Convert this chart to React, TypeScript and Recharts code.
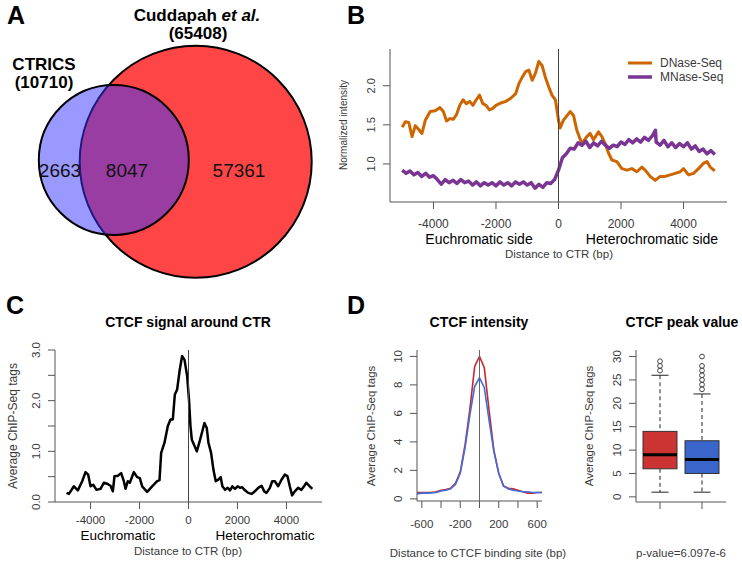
import React from 'react';
import {
  LineChart, Line, XAxis, YAxis, ReferenceLine,
  ScatterChart, Scatter, BarChart, Bar,
} from 'recharts';

const FONT = '"Liberation Sans", Arial, Helvetica, sans-serif';
const AXIS = '#555555';
const TICK_TXT = '#3a3a3a';

// ---------------- Panel A : Venn ----------------
const vennSetNames = ['Cuddapah et al.', 'CTRICS'];
const vennSetTotals = [65408, 10710];
const vennRegionCounts = [2663, 8047, 57361];
// venn layout (in venn units)
const vennCenterX = [195.7, 113.8];
const vennCenterY = [161.7, 160.0];
const vennRadius = [116, 75];
const vennColors = ['#FF4646', 'rgba(51,51,255,0.5)'];
const vennRegionX = [60, 127, 239];
const vennRegionY = [170, 170, 170];

// ---------------- Panel B ----------------
const bSeriesNames = ['DNase-Seq', 'MNase-Seq'];
const bSeriesColors = ['#CD6600', '#7A3592'];
const bXTicks = [-4000, -2000, 0, 2000, 4000];
const bYTicks = [1.0, 1.5, 2.0];
const dnaseX = [-5000,-4900,-4790,-4684,-4580,-4470,-4368,-4260,-4105,-3947,-3790,-3684,-3580,-3474,-3368,-3263,-3158,-3053,-2947,-2842,-2737,-2632,-2526,-2421,-2316,-2210,-2105,-2000,-1842,-1684,-1526,-1368,-1263,-1158,-1053,-947,-842,-737,-632,-526,-421,-316,-210,-100,0,53,160,373,480,587,747,907,1013,1120,1280,1387,1493,1600,1707,1867,2027,2187,2347,2507,2667,2773,2933,3093,3253,3413,3573,3733,3893,4000,4160,4320,4480,4640,4750,4853,5000];
const dnaseY = [1.47,1.54,1.53,1.35,1.49,1.44,1.39,1.56,1.67,1.68,1.72,1.67,1.55,1.58,1.57,1.63,1.75,1.82,1.77,1.80,1.75,1.82,1.88,1.77,1.75,1.69,1.71,1.75,1.78,1.80,1.84,1.90,2.03,2.11,2.18,2.20,2.07,2.16,2.31,2.26,2.11,1.99,1.88,1.82,1.56,1.46,1.56,1.67,1.62,1.43,1.26,1.35,1.39,1.31,1.41,1.35,1.26,1.14,1.05,1.03,0.94,0.92,0.94,0.90,0.96,0.92,0.84,0.79,0.84,0.84,0.86,0.88,0.90,0.94,0.86,0.88,0.94,1.01,1.03,0.96,0.91];
const mnaseX = [-5000,-4875,-4750,-4625,-4500,-4375,-4250,-4125,-4000,-3875,-3750,-3625,-3500,-3375,-3250,-3125,-3000,-2875,-2750,-2625,-2500,-2375,-2250,-2125,-2000,-1875,-1750,-1625,-1500,-1375,-1250,-1125,-1000,-875,-750,-625,-500,-375,-250,-125,0,125,250,375,500,625,750,875,1000,1125,1250,1375,1500,1625,1750,1875,2000,2125,2250,2375,2500,2625,2750,2875,3000,3100,3125,3250,3375,3500,3625,3750,3875,4000,4125,4250,4375,4500,4625,4750,4875,5000];
const mnaseY = [0.92,0.88,0.91,0.86,0.89,0.84,0.88,0.83,0.85,0.80,0.74,0.80,0.76,0.79,0.75,0.80,0.76,0.78,0.73,0.77,0.72,0.76,0.73,0.76,0.72,0.77,0.73,0.76,0.72,0.77,0.74,0.77,0.73,0.76,0.69,0.74,0.70,0.76,0.75,0.80,0.92,1.08,1.13,1.20,1.19,1.27,1.24,1.29,1.21,1.27,1.23,1.29,1.24,1.20,1.24,1.22,1.28,1.25,1.31,1.27,1.32,1.28,1.34,1.30,1.36,1.43,1.28,1.24,1.30,1.22,1.27,1.21,1.26,1.22,1.27,1.19,1.23,1.16,1.19,1.13,1.17,1.12];

// ---------------- Panel C ----------------
const cXTicks = [-4000, -2000, 0, 2000, 4000];
const cYTicks = [0, 0.5, 1.0, 1.5, 2.0, 2.5, 3.0];
const ctcfX = [-4979,-4880,-4680,-4517,-4340,-4204,-4095,-4000,-3890,-3755,-3590,-3456,-3320,-3184,-3089,-3021,-2885,-2749,-2640,-2572,-2477,-2395,-2232,-2096,-1987,-1892,-1688,-1484,-1280,-1184,-1116,-980,-844,-735,-640,-558,-464,-354,-260,-165,-56,20,80,136,339,475,651,746,814,922,1017,1112,1220,1315,1383,1492,1600,1695,1790,1898,2006,2101,2196,2305,2440,2576,2711,2847,2983,3091,3186,3322,3417,3525,3661,3796,3932,4040,4135,4230,4339,4474,4610,4718,4813,4949,5057];
const ctcfY = [0.18,0.16,0.31,0.23,0.41,0.59,0.54,0.31,0.34,0.24,0.26,0.38,0.36,0.32,0.21,0.51,0.52,0.57,0.41,0.26,0.41,0.38,0.59,0.49,0.47,0.31,0.20,0.31,0.41,0.43,0.97,1.17,1.50,1.63,1.63,2.12,2.22,2.62,2.88,2.81,2.49,2.02,1.50,1.23,1.00,1.23,1.56,1.46,1.17,0.97,0.64,0.41,0.44,0.49,0.31,0.24,0.28,0.23,0.31,0.26,0.31,0.28,0.29,0.23,0.18,0.16,0.21,0.28,0.32,0.21,0.18,0.28,0.41,0.41,0.31,0.44,0.54,0.51,0.31,0.13,0.21,0.28,0.24,0.31,0.38,0.31,0.26];

// ---------------- Panel D (left) ----------------
const dXTicks = [-600, -400, -200, 0, 200, 400, 600];
const dXLabelled = [-600, -200, 200, 600];
const dYTicks = [0, 2, 4, 6, 8, 10];
const dX = [-650,-600,-550,-500,-450,-400,-350,-300,-250,-200,-150,-100,-50,0,50,100,150,200,250,300,350,400,450,500,550,600,650];
const dRed = [0.45,0.45,0.45,0.45,0.50,0.60,0.65,0.75,1.10,1.90,3.80,6.30,9.30,10.0,9.20,6.20,3.40,1.80,0.90,0.75,0.70,0.60,0.50,0.40,0.40,0.45,0.45];
const dBlue = [0.35,0.40,0.40,0.42,0.45,0.55,0.60,0.70,1.00,1.80,3.60,5.90,7.90,8.50,7.80,5.50,3.30,1.80,0.90,0.70,0.60,0.55,0.50,0.50,0.45,0.45,0.45];
const dColors = ['#C8282D', '#3F6FD8'];

// ---------------- Panel D (right) boxplot ----------------
const boxNames = ['red', 'blue'];
const boxLow = [1, 1];
const boxQ1 = [6, 5];
const boxMedian = [9, 8];
const boxQ3 = [14, 12];
const boxHigh = [26, 22];
const boxOutliers = [[27, 28, 29], [23, 24, 25, 26, 27, 28, 30]];
const boxYTicks = [0, 5, 10, 15, 20, 25, 30];
const boxColors = ['#CC3333', '#3A66CC'];

// ---------------- tables ----------------
const vennCircleTable = vennSetNames.map((n, i) => ({
  name: n, total: vennSetTotals[i], x: vennCenterX[i], y: vennCenterY[i], r: vennRadius[i], fill: vennColors[i],
}));
const vennCountTable = vennRegionCounts.map((c, i) => ({ count: c, x: vennRegionX[i], y: vennRegionY[i] }));
const dnaseTable = dnaseX.map((x, i) => ({ x, v: dnaseY[i] }));
const mnaseTable = mnaseX.map((x, i) => ({ x, v: mnaseY[i] }));
const ctcfTable = ctcfX.map((x, i) => ({ x, v: ctcfY[i] }));
const dTable = dX.map((x, i) => ({ x, red: dRed[i], blue: dBlue[i] }));
const boxTable = boxNames.map((n, i) => ({
  name: n, range: [boxLow[i], boxHigh[i]], low: boxLow[i], high: boxHigh[i],
  q1: boxQ1[i], med: boxMedian[i], q3: boxQ3[i], out: boxOutliers[i], fill: boxColors[i],
}));

// ---------------- helpers ----------------
function xTick(fs: number, fmt: (v: number) => string, show?: (v: number) => boolean, dc = 16) {
  return (p: any) => {
    const v = p.payload.value;
    if (show && !show(v)) return <g />;
    return (
      <text x={p.x} y={p.y + dc + 0.36 * fs} textAnchor="middle" fontSize={fs} fontFamily={FONT} fill={TICK_TXT}>
        {fmt(v)}
      </text>
    );
  };
}
function yTick(fs: number, fmt: (v: number) => string, show?: (v: number) => boolean) {
  return (p: any) => {
    const v = p.payload.value;
    if (show && !show(v)) return <g />;
    const bx = p.x - 12 + 0.36 * fs;
    return (
      <text x={bx} y={p.y} transform={`rotate(-90, ${bx}, ${p.y})`} textAnchor="middle" fontSize={fs} fontFamily={FONT} fill={TICK_TXT}>
        {fmt(v)}
      </text>
    );
  };
}
const noTick = () => <g />;

const VennCircle = (p: any) => (
  <circle cx={p.cx} cy={p.cy} r={p.payload.r} fill={p.payload.fill} stroke="#000" strokeWidth={2} />
);
const VennCount = (p: any) => (
  <text x={p.cx} y={p.cy + 7} textAnchor="middle" fontSize={19} fontFamily={FONT} fill="#111">
    {p.payload.count}
  </text>
);

const BoxShape = (p: any) => {
  const { x, y, width, height, payload } = p;
  const { low, high, q1, med, q3, out, fill } = payload;
  const py = (v: number) => y + ((high - v) / (high - low)) * height;
  const cx = x + width / 2;
  const cap = width / 4;
  return (
    <g>
      <line x1={cx} x2={cx} y1={py(high)} y2={py(q3)} stroke="#222" strokeDasharray="4 3" />
      <line x1={cx} x2={cx} y1={py(q1)} y2={py(low)} stroke="#222" strokeDasharray="4 3" />
      <line x1={cx - cap} x2={cx + cap} y1={py(high)} y2={py(high)} stroke="#222" />
      <line x1={cx - cap} x2={cx + cap} y1={py(low)} y2={py(low)} stroke="#222" />
      <rect x={x} y={py(q3)} width={width} height={py(q1) - py(q3)} fill={fill} stroke="#333" />
      <line x1={x} x2={x + width} y1={py(med)} y2={py(med)} stroke="#000" strokeWidth={3} />
      {out.map((o: number, i: number) => (
        <circle key={i} cx={cx} cy={py(o)} r={2.4} fill="none" stroke="#444" strokeWidth={1} />
      ))}
    </g>
  );
};

const Txt = (p: any) => {
  const { x, y, size = 12, weight = 'normal', anchor = 'middle', color = TICK_TXT, rot = false, children } = p;
  return (
    <text
      x={x} y={y} fontSize={size} fontWeight={weight} textAnchor={anchor} fill={color} fontFamily={FONT}
      transform={rot ? `rotate(-90, ${x}, ${y})` : undefined}
    >
      {children}
    </text>
  );
};

const abs = (left: number, top: number): React.CSSProperties => ({ position: 'absolute', left, top });
const fmt1 = (v: number) => v.toFixed(1);
const fmtInt = (v: number) => String(v);

export default function App() {
  return (
    <div style={{ position: 'absolute', left: 0, top: 0, width: 742, height: 564, background: '#fff', fontFamily: FONT, overflow: 'hidden' }}>
      {/* Panel A */}
      <div style={abs(0, 0)}>
        <ScatterChart width={371} height={282} margin={{ top: 0, right: 0, bottom: 0, left: 0 }}>
          <XAxis type="number" dataKey="x" domain={[0, 371]} hide />
          <YAxis type="number" dataKey="y" domain={[0, 282]} reversed hide />
          <Scatter data={vennCircleTable} shape={VennCircle} isAnimationActive={false} />
          <Scatter data={vennCountTable} shape={VennCount} isAnimationActive={false} />
        </ScatterChart>
      </div>

      {/* Panel B */}
      <div style={abs(330, 40)}>
        <LineChart width={412} height={230} margin={{ top: 9, right: 15, bottom: 28, left: 0 }}>
          <XAxis type="number" dataKey="x" domain={[-5390, 5390]} ticks={bXTicks} interval={0} allowDataOverflow
            height={40} tickSize={7} tickMargin={0} stroke={AXIS} tick={xTick(12, fmtInt, undefined, 15)} />
          <YAxis type="number" domain={[0.513, 2.47]} ticks={bYTicks} interval={0} allowDataOverflow
            width={60} tickSize={7} tickMargin={0} stroke={AXIS} tick={yTick(11, fmt1)} />
          <XAxis xAxisId="top" orientation="top" type="number" domain={[-5390, 5390]} height={0} tick={false} tickLine={false} stroke={AXIS} />
          <YAxis yAxisId="right" orientation="right" type="number" domain={[0.513, 2.47]} width={0} tick={false} tickLine={false} stroke={AXIS} />
          <Line data={dnaseTable} dataKey="v" name={bSeriesNames[0]} type="linear" stroke={bSeriesColors[0]} strokeWidth={3} dot={false} isAnimationActive={false} strokeLinejoin="round" />
          <Line data={mnaseTable} dataKey="v" name={bSeriesNames[1]} type="linear" stroke={bSeriesColors[1]} strokeWidth={3.5} dot={false} isAnimationActive={false} strokeLinejoin="round" />
          <ReferenceLine x={0} stroke="#444" strokeWidth={1} />
        </LineChart>
      </div>

      {/* Panel C */}
      <div style={abs(0, 290)}>
        <LineChart width={340} height={270} data={ctcfTable} margin={{ top: 60, right: 18, bottom: 18, left: 0 }}>
          <XAxis type="number" dataKey="x" domain={[-5450, 5450]} ticks={cXTicks} interval={0} allowDataOverflow
            height={40} tickSize={7} tickMargin={0} stroke={AXIS} tick={xTick(11.5, fmtInt, undefined, 11)} />
          <YAxis type="number" domain={[0, 3]} ticks={cYTicks} interval={0} allowDataOverflow
            width={55} tickSize={7} tickMargin={0} stroke={AXIS} tick={yTick(11.5, fmt1, (v) => Number.isInteger(v))} />
          <XAxis xAxisId="top" orientation="top" type="number" domain={[-5450, 5450]} height={0} tick={false} tickLine={false} stroke={AXIS} />
          <YAxis yAxisId="right" orientation="right" type="number" domain={[0, 3]} width={0} tick={false} tickLine={false} stroke={AXIS} />
          <Line dataKey="v" type="linear" stroke="#000" strokeWidth={2.5} dot={false} isAnimationActive={false} strokeLinejoin="round" />
          <ReferenceLine x={0} stroke="#444" strokeWidth={1} />
        </LineChart>
      </div>

      {/* Panel D left */}
      <div style={abs(360, 290)}>
        <LineChart width={190} height={270} data={dTable} margin={{ top: 60, right: 8, bottom: 19, left: 0 }}>
          <XAxis type="number" dataKey="x" domain={[-650, 650]} ticks={dXTicks} interval={0} allowDataOverflow
            height={40} tickSize={7} tickMargin={0} stroke={AXIS} tick={xTick(11.5, fmtInt, (v) => dXLabelled.includes(v))} />
          <YAxis type="number" domain={[-0.15, 10.45]} ticks={dYTicks} interval={0} allowDataOverflow
            width={57} tickSize={7} tickMargin={0} stroke={AXIS} tick={yTick(11.5, fmtInt)} />
          <XAxis xAxisId="top" orientation="top" type="number" domain={[-650, 650]} height={0} tick={false} tickLine={false} stroke={AXIS} />
          <YAxis yAxisId="right" orientation="right" type="number" domain={[-0.15, 10.45]} width={0} tick={false} tickLine={false} stroke={AXIS} />
          <Line dataKey="red" type="linear" stroke={dColors[0]} strokeWidth={1.6} dot={false} isAnimationActive={false} />
          <Line dataKey="blue" type="linear" stroke={dColors[1]} strokeWidth={1.6} dot={false} isAnimationActive={false} />
          <ReferenceLine x={0} stroke="#666" strokeWidth={1} />
        </LineChart>
      </div>

      {/* Panel D right */}
      <div style={abs(570, 290)}>
        <BarChart width={172} height={270} data={boxTable} margin={{ top: 60, right: 16, bottom: 18, left: 0 }} barSize={34}>
          <XAxis dataKey="name" type="category" padding={{ left: 3, right: 3 }} height={40} tickSize={7} tickMargin={0}
            interval={0} stroke={AXIS} tick={noTick} />
          <YAxis type="number" domain={[-1.1, 31.4]} ticks={boxYTicks} interval={0} allowDataOverflow
            width={66} tickSize={7} tickMargin={0} stroke={AXIS} tick={yTick(11.5, fmtInt)} />
          <XAxis xAxisId="top" orientation="top" dataKey="name" type="category" height={0} tick={false} tickLine={false} stroke={AXIS} />
          <YAxis yAxisId="right" orientation="right" type="number" domain={[-1.1, 31.4]} width={0} tick={false} tickLine={false} stroke={AXIS} />
          <Bar dataKey="range" shape={BoxShape} isAnimationActive={false} />
        </BarChart>
      </div>

      {/* Text overlay */}
      <svg width={742} height={564} style={{ position: 'absolute', left: 0, top: 0, pointerEvents: 'none' }}>
        {/* panel letters */}
        <Txt x={7} y={24} size={25} weight="bold" anchor="start" color="#000">A</Txt>
        <Txt x={347} y={24} size={25} weight="bold" anchor="start" color="#000">B</Txt>
        <Txt x={6} y={314} size={25} weight="bold" anchor="start" color="#000">C</Txt>
        <Txt x={347} y={314} size={25} weight="bold" anchor="start" color="#000">D</Txt>

        {/* Venn labels */}
        <text x={197} y={21} fontSize={17} fontWeight="bold" textAnchor="middle" fill="#000" fontFamily={FONT}>
          <tspan>Cuddapah </tspan><tspan fontStyle="italic">et al.</tspan>
        </text>
        <Txt x={198} y={39} size={17} weight="bold" color="#000">({vennSetTotals[0]})</Txt>
        <Txt x={44} y={70} size={17} weight="bold" color="#000">{vennSetNames[1]}</Txt>
        <Txt x={44} y={88} size={17} weight="bold" color="#000">({vennSetTotals[1]})</Txt>

        {/* Panel B labels */}
        <line x1={628} x2={652} y1={63} y2={63} stroke={bSeriesColors[0]} strokeWidth={3} />
        <line x1={628} x2={652} y1={77} y2={77} stroke={bSeriesColors[1]} strokeWidth={3.5} />
        <Txt x={660} y={67} size={12} anchor="start">{bSeriesNames[0]}</Txt>
        <Txt x={660} y={81} size={12} anchor="start">{bSeriesNames[1]}</Txt>
        <Txt x={347} y={125} size={10} rot>Normalized intensity</Txt>
        <Txt x={479} y={244} size={14} color="#000">Euchromatic side</Txt>
        <Txt x={652} y={244} size={14} color="#000">Heterochromatic side</Txt>
        <Txt x={559} y={258} size={11.5}>Distance to CTR (bp)</Txt>

        {/* Panel C labels */}
        <Txt x={188} y={327} size={14} weight="bold" color="#000">CTCF signal around CTR</Txt>
        <Txt x={17} y={426} size={12} rot>Average ChIP-Seq tags</Txt>
        <Txt x={118} y={540} size={13.5} color="#000">Euchromatic</Txt>
        <Txt x={265} y={540} size={13.5} color="#000">Heterochromatic</Txt>
        <Txt x={188} y={555} size={11.5}>Distance to CTR (bp)</Txt>

        {/* Panel D labels */}
        <Txt x={479} y={327} size={14} weight="bold" color="#000">CTCF intensity</Txt>
        <Txt x={375} y={426} size={11.5} rot>Average ChIP-Seq tags</Txt>
        <Txt x={478} y={557} size={11.5}>Distance to CTCF binding site (bp)</Txt>
        <Txt x={682} y={327} size={14} weight="bold" color="#000">CTCF peak value</Txt>
        <Txt x={593} y={426} size={11.5} rot>Average ChIP-Seq tags</Txt>
        <Txt x={681} y={557} size={11.5}>p-value=6.097e-6</Txt>
      </svg>
    </div>
  );
}
